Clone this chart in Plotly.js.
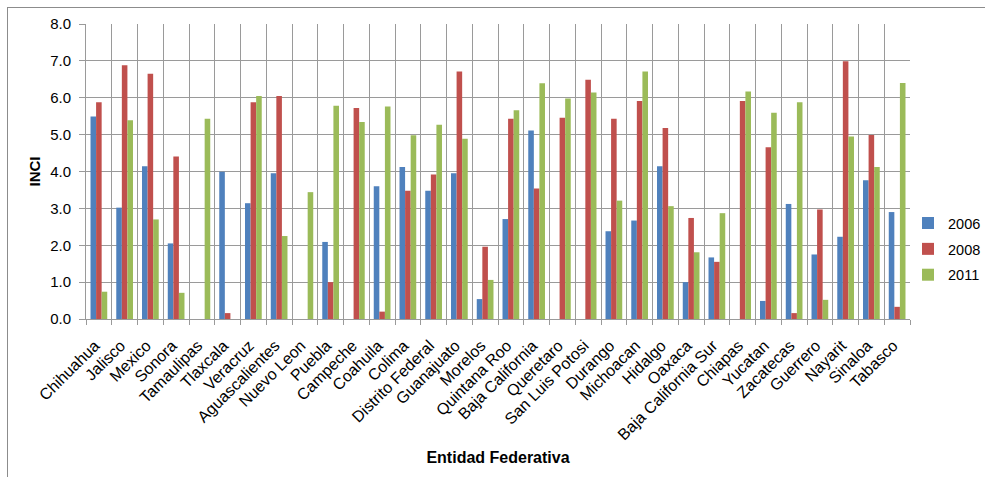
<!DOCTYPE html>
<html>
<head>
<meta charset="utf-8">
<script src="https://cdn.plot.ly/plotly-3.0.1.min.js"></script>
<style>
  html, body { margin: 0; padding: 0; background: #fff; overflow: hidden; }
  #frame { position: absolute; left: 7px; top: 7px; width: 1100px; height: 600px; border: 1px solid #8c8c8c; box-sizing: border-box; }
  #chart { position: absolute; left: 0; top: 0; width: 985px; height: 477px; }
</style>
</head>
<body>
<div id="frame"></div>
<div id="chart"></div>
<script>
const categories = ["Chihuahua","Jalisco","Mexico","Sonora","Tamaulipas","Tlaxcala","Veracruz","Aguascalientes","Nuevo Leon","Puebla","Campeche","Coahuila","Colima","Distrito Federal","Guanajuato","Morelos","Quintana Roo","Baja California","Queretaro","San Luis Potosi","Durango","Michoacan","Hidalgo","Oaxaca","Baja California Sur","Chiapas","Yucatan","Zacatecas","Guerrero","Nayarit","Sinaloa","Tabasco"];

const values2006 = [5.49,3.02,4.14,2.05,null,3.99,3.14,3.95,null,2.09,null,3.60,4.12,3.48,3.95,0.54,2.71,5.11,null,null,2.38,2.67,4.14,1.00,1.67,null,0.49,3.12,1.75,2.23,3.76,2.90];
const values2008 = [5.88,6.88,6.65,4.41,null,0.16,5.88,6.05,null,1.00,5.72,0.20,3.48,3.92,6.71,1.96,5.43,3.54,5.46,6.49,5.43,5.91,5.18,2.74,1.55,5.91,4.66,0.16,2.97,6.99,4.99,0.33];
const values2011 = [0.74,5.39,2.70,0.71,5.43,null,6.05,2.25,3.44,5.78,5.34,5.76,4.98,5.27,4.89,1.06,5.66,6.39,5.98,6.14,3.21,6.71,3.06,1.81,2.87,6.17,5.59,5.88,0.52,4.95,4.12,6.40];

const seriesNames = ["2006","2008","2011"];
const seriesColors = ["#4F81BD","#C0504D","#9BBB59"];
const seriesValues = [values2006, values2008, values2011];

const traces = seriesValues.map((vals, i) => ({
  type: "bar",
  name: seriesNames[i],
  x: categories,
  y: vals,
  marker: { color: seriesColors[i], line: { width: 0 } },
  legendgroup: "g" + i,
  hoverinfo: "x+y+name"
}));

const gridColor = "#9a9a9a";
const font = "Liberation Sans, Arial, sans-serif";

const layout = {
  width: 985,
  height: 477,
  paper_bgcolor: "rgba(0,0,0,0)",
  plot_bgcolor: "rgba(0,0,0,0)",
  margin: { l: 86, r: 75, t: 24, b: 158, pad: 0, autoexpand: false },
  barmode: "group",
  bargap: 0.35,
  bargroupgap: 0,
  font: { family: font, size: 14, color: "#000" },
  showlegend: true,
  legend: {
    x: 0.9976, xanchor: "left",
    y: 0.237, yanchor: "middle",
    font: { family: font, size: 14.5, color: "#000" },
    traceorder: "grouped",
    tracegroupgap: 4,
    itemwidth: 30,
    bgcolor: "rgba(0,0,0,0)"
  },
  xaxis: {
    type: "category",
    tickangle: -45,
    tickson: "boundaries",
    showgrid: true,
    gridcolor: gridColor,
    gridwidth: 1,
    showline: true,
    linecolor: gridColor,
    linewidth: 1,
    ticks: "outside",
    ticklen: 5,
    tickcolor: gridColor,
    ticklabelstandoff: 10,
    ticklabelshift: -4,
    tickfont: { family: font, size: 16, color: "#000" },
    automargin: false,
    title: { text: "Entidad Federativa", font: { family: font, size: 16, color: "#000", weight: "bold" }, standoff: 9 }
  },
  yaxis: {
    range: [0, 8],
    dtick: 1,
    tick0: 0,
    tickformat: ".1f",
    showgrid: true,
    gridcolor: gridColor,
    gridwidth: 1,
    zeroline: false,
    showline: true,
    linecolor: gridColor,
    ticks: "outside",
    ticklen: 6,
    tickcolor: gridColor,
    ticklabelstandoff: 5,
    tickfont: { family: font, size: 15, color: "#000" },
    automargin: false,
    title: { text: "INCI", font: { family: font, size: 15, color: "#000", weight: "bold" }, standoff: 5 }
  }
};

Plotly.newPlot("chart", traces, layout, { displayModeBar: false, staticPlot: true });
</script>
</body>
</html>
